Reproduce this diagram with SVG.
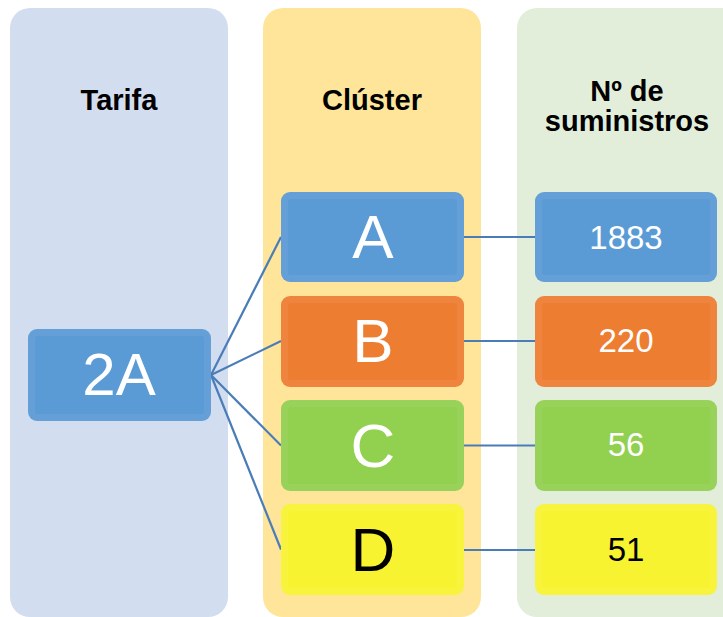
<svg xmlns="http://www.w3.org/2000/svg" width="723" height="617" viewBox="0 0 723 617">
<style>
.hdr{font-family:"Liberation Sans",Arial,sans-serif;font-weight:bold;font-size:29px;fill:#000;text-anchor:middle}
.big{font-family:"Liberation Sans",Arial,sans-serif;font-size:62px;text-anchor:middle}
.num{font-family:"Liberation Sans",Arial,sans-serif;font-size:33px;text-anchor:middle}
.w{fill:#fff}.k{fill:#000}
.bev{fill:none;stroke:#fff;stroke-opacity:0.06;stroke-width:7}
.blue{fill:#5b9bd5}.orange{fill:#ed7d31}.green{fill:#92d050}.yellow{fill:#f8f331}
.conn{stroke:#4a7db8;stroke-width:2.2;fill:none}
</style>
<rect width="723" height="617" fill="#fff"/>
<g id="col-tarifa">
<rect x="10" y="8" width="218" height="609" rx="20" fill="#d2deef"/>
<text class="hdr" x="119" y="110">Tarifa</text>
</g>
<g id="col-cluster">
<rect x="263" y="8" width="218" height="609" rx="20" fill="#fee599"/>
<text class="hdr" x="372" y="110">Clúster</text>
</g>
<g id="col-suministros">
<rect x="517" y="8" width="230" height="609" rx="20" fill="#e2eeda"/>
<text class="hdr" x="627" y="101">Nº de</text>
<text class="hdr" x="627" y="131">suministros</text>
</g>
<g id="connectors">
<line class="conn" x1="211" y1="375" x2="281" y2="237"/>
<line class="conn" x1="211" y1="375" x2="281" y2="341"/>
<line class="conn" x1="211" y1="375" x2="281" y2="445.5"/>
<line class="conn" x1="211" y1="375" x2="281" y2="549.5"/>
<line class="conn" x1="464" y1="237" x2="535" y2="237"/>
<line class="conn" x1="464" y1="341" x2="535" y2="341"/>
<line class="conn" x1="464" y1="445.5" x2="535" y2="445.5"/>
<line class="conn" x1="464" y1="550" x2="535" y2="550"/>
</g>
<g id="node-2A">
<rect class="blue" x="28" y="329" width="183" height="92" rx="9"/>
<rect class="bev" x="31.5" y="332.5" width="176" height="85" rx="6"/>
<text class="big w" x="119" y="395" style="font-size:60px">2A</text>
</g>
<g id="node-A">
<rect class="blue" x="281" y="192" width="183" height="90" rx="9"/>
<rect class="bev" x="284.5" y="195.5" width="176" height="83" rx="6"/>
<text class="big w" x="373" y="258">A</text>
</g>
<g id="node-B">
<rect class="orange" x="281" y="296" width="183" height="91" rx="9"/>
<rect class="bev" x="284.5" y="299.5" width="176" height="84" rx="6"/>
<text class="big w" x="373" y="362">B</text>
</g>
<g id="node-C">
<rect class="green" x="281" y="400" width="183" height="91" rx="9"/>
<rect class="bev" x="284.5" y="403.5" width="176" height="84" rx="6"/>
<text class="big w" x="373" y="467">C</text>
</g>
<g id="node-D">
<rect class="yellow" x="281" y="504" width="183" height="91" rx="9"/>
<rect class="bev" x="284.5" y="507.5" width="176" height="84" rx="6"/>
<text class="big k" x="373" y="571">D</text>
</g>
<g id="node-1883">
<rect class="blue" x="535" y="192" width="182" height="90" rx="9"/>
<rect class="bev" x="538.5" y="195.5" width="175" height="83" rx="6"/>
<text class="num w" x="626" y="248.5">1883</text>
</g>
<g id="node-220">
<rect class="orange" x="535" y="296" width="182" height="91" rx="9"/>
<rect class="bev" x="538.5" y="299.5" width="175" height="84" rx="6"/>
<text class="num w" x="626" y="352">220</text>
</g>
<g id="node-56">
<rect class="green" x="535" y="400" width="182" height="91" rx="9"/>
<rect class="bev" x="538.5" y="403.5" width="175" height="84" rx="6"/>
<text class="num w" x="626" y="456">56</text>
</g>
<g id="node-51">
<rect class="yellow" x="535" y="504" width="182" height="91" rx="9"/>
<rect class="bev" x="538.5" y="507.5" width="175" height="84" rx="6"/>
<text class="num k" x="626" y="561">51</text>
</g>
</svg>
